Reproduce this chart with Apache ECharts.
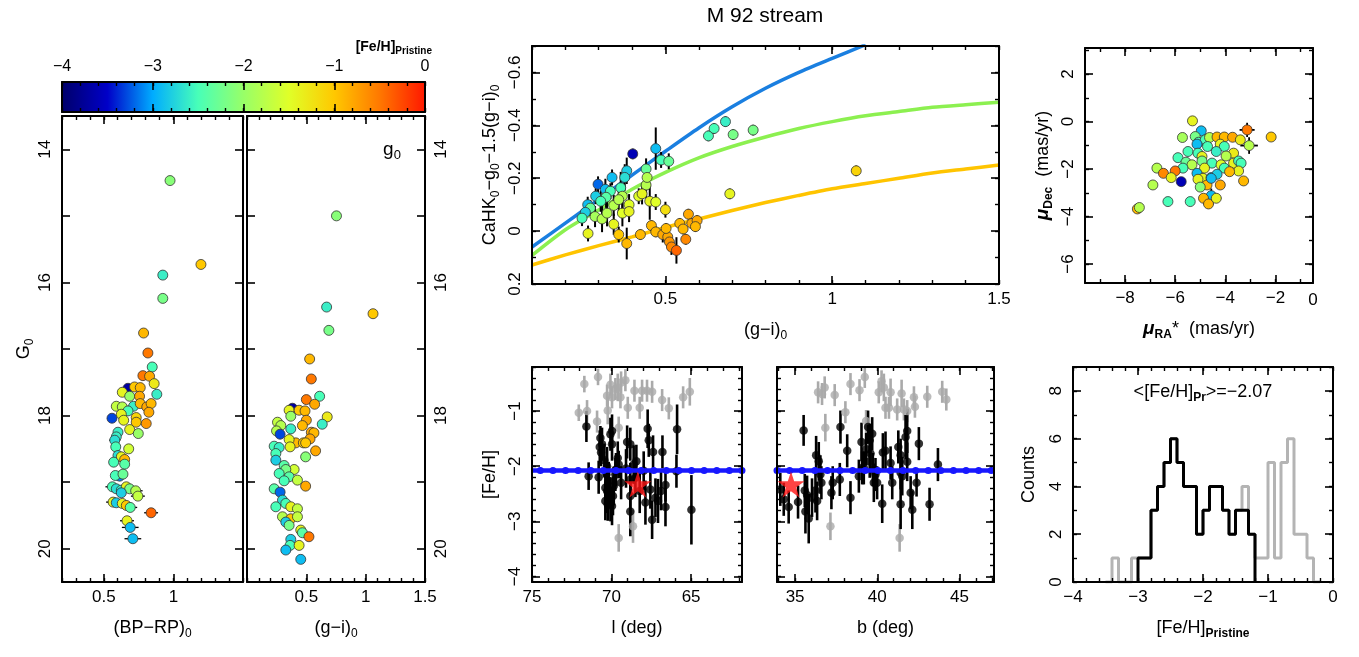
<!DOCTYPE html>
<html><head><meta charset="utf-8">
<script src="https://cdn.jsdelivr.net/npm/echarts@6/dist/echarts.min.js"></script>
<style>html,body{margin:0;padding:0;background:#fff}#c{width:1359px;height:657px}</style>
</head><body><div id="c"></div>
<script>
// ---------------- DATA ----------------
// CMD 1: [(BP-RP)0, G0, [Fe/H], xerr]
const cmdBpRp = [
[0.976,14.47,-2.1,0],[1.198,15.73,-1.0,0],[0.924,15.89,-2.6,0],[0.924,16.24,-2.2,0],[0.786,16.76,-0.9,0],
[0.817,17.06,-0.5,0],[0.848,17.27,-2.5,0],[0.781,17.40,-0.5,0],[0.829,17.41,-0.8,0],[0.862,17.52,-1.3,0],
[0.881,17.68,-2.6,0],[0.674,17.59,-3.7,0],[0.633,17.65,-1.4,0],[0.721,17.57,-1.0,0],[0.762,17.58,-0.9,0],
[0.686,17.71,-2.0,0],[0.757,17.71,-0.8,0],[0.590,17.86,-1.7,0],[0.633,17.87,-1.8,0],[0.714,17.86,-2.6,0],
[0.674,17.93,-2.5,0],[0.762,17.82,-0.9,0],[0.809,17.87,-0.8,0],[0.840,17.82,-0.9,0],[0.824,17.95,-0.8,0],
[0.559,18.04,-3.3,0],[0.626,17.98,-1.4,0],[0.643,18.07,-1.4,0],[0.733,18.03,-1.1,0],[0.733,18.10,-1.0,0],
[0.805,18.12,-0.7,0],[0.686,18.21,-1.4,0],[0.748,18.27,-2.0,0],[0.602,18.25,-2.6,0],[0.590,18.32,-2.6,0],
[0.579,18.37,-2.7,0.04],[0.586,18.47,-2.5,0],[0.679,18.50,-1.6,0],[0.602,18.60,-2.7,0.03],[0.626,18.62,-1.4,0],
[0.650,18.66,-0.9,0.03],[0.571,18.70,-2.5,0],[0.650,18.73,-2.4,0],[0.614,18.91,-3.1,0.04],[0.583,18.90,-2.5,0.03],
[0.638,18.88,-2.3,0],[0.562,19.07,-2.5,0.05],[0.590,19.10,-2.7,0.04],[0.626,19.12,-2.6,0.04],[0.662,19.07,-1.4,0.04],
[0.686,19.10,-2.2,0.04],[0.729,19.13,-1.8,0.05],[0.745,19.21,-1.7,0.05],[0.626,19.16,-2.8,0],[0.567,19.30,-1.4,0.05],
[0.590,19.31,-2.8,0.04],[0.633,19.32,-1.4,0.04],[0.662,19.35,-1.0,0.05],[0.690,19.38,-2.4,0.05],[0.840,19.46,-0.4,0.05],
[0.667,19.58,-1.4,0.05],[0.690,19.68,-2.9,0.06],[0.709,19.85,-2.9,0.06]
];
// CMD 2: [(g-i)0, g0, [Fe/H]]
const cmdGi = [
[0.754,15.00,-2.1],[0.671,16.37,-2.6],[1.062,16.47,-1.0],[0.690,16.72,-2.2],[0.528,17.15,-0.9],
[0.542,17.45,-0.5],[0.612,17.71,-2.5],[0.500,17.76,-0.5],[0.570,17.83,-0.8],[0.676,18.02,-1.3],
[0.634,18.13,-2.6],[0.383,17.89,-3.7],[0.355,17.92,-1.4],[0.439,17.92,-1.0],[0.489,17.93,-0.9],
[0.369,18.01,-2.0],[0.500,18.07,-0.8],[0.257,18.10,-1.7],[0.285,18.15,-1.8],[0.369,18.20,-2.6],
[0.249,18.23,-1.8],[0.279,18.28,-3.3],[0.467,18.15,-0.9],[0.542,18.25,-0.8],[0.564,18.26,-0.9],
[0.531,18.35,-0.8],[0.411,18.41,-0.9],[0.475,18.41,-1.0],[0.494,18.41,-1.0],[0.355,18.36,-1.4],
[0.363,18.47,-1.4],[0.578,18.53,-0.8],[0.494,18.62,-2.1],[0.229,18.46,-2.5],[0.271,18.48,-2.6],
[0.243,18.57,-2.5],[0.243,18.67,-2.8],[0.313,18.75,-2.4],[0.397,18.81,-1.6],[0.327,18.81,-2.2],
[0.271,18.87,-2.5],[0.355,18.92,-2.4],[0.425,18.97,-1.7],[0.494,19.06,-0.8],[0.313,18.98,-2.5],
[0.229,19.10,-2.4],[0.279,19.15,-3.2],[0.299,19.27,-2.7],[0.243,19.37,-2.5],[0.327,19.32,-2.5],
[0.369,19.37,-1.4],[0.425,19.40,-1.7],[0.299,19.52,-1.8],[0.369,19.55,-1.0],[0.327,19.60,-2.8],
[0.425,19.52,-1.7],[0.355,19.65,-2.2],[0.453,19.72,-1.4],[0.467,19.76,-2.4],[0.522,19.82,-0.5],
[0.369,19.86,-2.8],[0.363,19.95,-2.5],[0.439,19.95,-1.4],[0.327,20.02,-2.9],[0.453,20.16,-2.9]
];
// CaHK index: [(g-i)0, CaHK0-g0-1.5(g-i)0, [Fe/H], yerr]
const cahk = [
[0.402,-0.292,-3.6,0.02],[0.471,-0.312,-2.9,0.08],[0.487,-0.269,-2.5,0.03],[0.510,-0.264,-2.3,0.03],
[0.442,-0.235,-2.3,0.04],[0.384,-0.228,-2.8,0.05],[0.378,-0.203,-2.7,0.05],[0.340,-0.203,-2.9,0.03],
[0.298,-0.177,-3.2,0.03],[0.320,-0.158,-2.9,0.04],[0.366,-0.164,-2.5,0.06],[0.335,-0.151,-2.5,0.03],
[0.442,-0.174,-1.8,0.05],[0.445,-0.203,-1.8,0.04],[0.291,-0.132,-2.8,0.03],[0.322,-0.128,-2.4,0.04],
[0.371,-0.132,-1.8,0.05],[0.420,-0.132,-1.5,0.03],[0.430,-0.141,-1.4,0.04],[0.267,-0.100,-2.9,0.03],
[0.275,-0.087,-2.3,0.03],[0.306,-0.113,-2.5,0.04],[0.345,-0.097,-1.8,0.04],[0.360,-0.119,-1.8,0.05],
[0.391,-0.100,-1.5,0.04],[0.453,-0.113,-1.4,0.07],[0.471,-0.110,-1.5,0.03],[0.500,-0.081,-1.2,0.03],
[0.260,-0.071,-2.8,0.03],[0.250,-0.049,-2.5,0.03],[0.289,-0.055,-1.9,0.04],[0.310,-0.046,-1.8,0.05],
[0.325,-0.068,-1.8,0.05],[0.371,-0.068,-1.5,0.05],[0.391,-0.074,-1.4,0.04],[0.345,-0.026,-1.4,0.04],
[0.268,0.009,-1.4,0.03],[0.360,0.013,-1.0,0.03],[0.384,0.047,-0.9,0.06],[0.425,0.013,-0.9,0.02],
[0.458,-0.021,-0.9,0.02],[0.471,0.003,-0.9,0.02],[0.492,0.013,-0.8,0.03],[0.507,0.022,-0.8,0.03],
[0.502,-0.010,-0.9,0.02],[0.512,0.041,-0.7,0.03],[0.518,0.060,-0.6,0.03],[0.533,0.073,-0.4,0.05],
[0.543,-0.029,-0.9,0.02],[0.553,-0.008,-0.9,0.02],[0.561,0.031,-0.6,0.02],[0.569,-0.064,-0.8,0.02],
[0.579,-0.029,-0.8,0.02],[0.595,-0.040,-0.8,0.02],[0.590,-0.017,-0.9,0.02],[0.629,-0.360,-2.5,0.02],
[0.646,-0.388,-2.5,0.02],[0.680,-0.414,-2.6,0.02],[0.703,-0.365,-2.2,0.02],[0.763,-0.382,-2.2,0.02],
[0.693,-0.141,-1.4,0.02],[1.072,-0.228,-1.1,0.02]
];
// model curves in CaHK panel
const curveGi    = [0.1,0.2,0.3,0.4,0.5,0.6,0.7,0.8,0.9,1.0,1.1,1.2,1.3,1.4,1.5];
const curveFeHm3 = [0.06,-0.03,-0.12,-0.212,-0.302,-0.39,-0.47,-0.54,-0.60,-0.653,-0.705];
const curveFeHm2 = [0.092,-0.005,-0.08,-0.158,-0.222,-0.277,-0.32,-0.356,-0.388,-0.414,-0.436,-0.452,-0.468,-0.478,-0.487];
const curveFeHm1 = [0.128,0.09,0.055,0.022,-0.014,-0.046,-0.078,-0.108,-0.135,-0.16,-0.18,-0.2,-0.22,-0.235,-0.25];
// proper motions: [pmRA*, pmDec, [Fe/H], err]
const pm = [
[-5.31,0.03,-1.4,0],[-4.96,-0.39,-2.9,0],[-5.71,-0.67,-1.9,0],[-5.20,-0.63,-2.2,0],[-5.07,-0.87,-2.5,0],
[-4.80,-0.77,-2.5,0],[-4.63,-0.67,-1.8,0],[-4.33,-0.65,-0.9,0],[-4.04,-0.65,-0.9,0],[-3.71,-0.66,-0.8,0],
[-3.40,-0.77,-1.3,0],[-3.13,-0.35,-0.5,0.3],[-2.17,-0.65,-1.0,0],[-3.05,-1.01,-1.8,0.35],[-5.13,-0.95,-2.9,0],
[-5.49,-1.26,-2.5,0],[-5.09,-1.33,-2.5,0],[-4.71,-1.05,-2.5,0],[-4.20,-0.95,-1.4,0],[-4.04,-1.05,-2.5,0],
[-3.67,-1.33,-1.3,0],[-4.36,-1.26,-2.6,0],[-4.93,-1.47,-1.4,0],[-3.97,-1.45,-1.8,0],[-5.89,-1.52,-2.5,0],
[-5.57,-1.71,-2.3,0],[-5.33,-1.82,-1.8,0],[-5.69,-1.96,-2.5,0],[-4.93,-1.66,-2.2,0],[-4.53,-1.75,-2.5,0],
[-4.17,-1.82,-1.5,0],[-4.04,-1.96,-2.5,0],[-3.67,-1.75,-1.4,0],[-3.47,-1.66,-2.5,0],[-3.37,-1.75,-2.5,0],
[-3.47,-2.08,-1.4,0],[-3.83,-2.11,-0.9,0],[-4.83,-1.96,-1.4,0],[-6.00,-2.08,-0.5,0],[-6.73,-1.96,-1.8,0],
[-6.47,-2.18,-0.6,0],[-6.16,-2.36,-1.4,0],[-5.13,-2.18,-2.9,0],[-4.89,-2.39,-1.4,0],[-4.57,-2.36,-2.8,0],
[-4.33,-2.22,-2.8,0],[-4.20,-2.67,-0.8,0],[-4.73,-2.67,-0.9,0],[-4.56,-2.39,-2.9,0],[-5.76,-2.53,-3.6,0],
[-5.09,-2.43,-1.4,0],[-5.00,-2.76,-2.1,0],[-6.89,-2.67,-1.8,0],[-3.27,-2.50,-0.9,0],[-4.56,-3.12,-2.9,0.3],
[-4.87,-3.23,-0.9,0],[-4.67,-3.47,-0.9,0.2],[-4.36,-3.23,-1.4,0.2],[-7.51,-3.68,-0.9,0],[-7.43,-3.62,-1.8,0],
[-6.29,-3.37,-2.5,0],[-5.40,-3.37,-2.5,0]
];
// [Fe/H] vs l : [l, [Fe/H], err]
const lMembers = [
[71.58,-1.28,0.28],[71.44,-2.18,0.25],[70.70,-1.49,0.22],[70.74,-1.65,0.3],[70.66,-1.75,0.25],[70.81,-2.20,0.3],
[70.45,-1.89,0.3],[70.28,-2.00,0.35],[70.07,-1.42,0.3],[69.97,-1.36,0.3],[70.18,-2.27,0.35],[70.28,-2.45,0.4],
[70.07,-2.60,0.4],[69.97,-2.72,0.35],[70.24,-2.69,0.3],[69.86,-2.36,0.35],[69.61,-1.85,0.3],[69.40,-2.30,0.3],
[69.55,-1.97,0.25],[69.02,-1.56,0.3],[68.82,-1.60,0.3],[69.09,-2.04,0.35],[68.82,-2.82,0.45],[68.61,-1.97,0.35],
[68.44,-1.91,0.3],[68.23,-2.45,0.4],[67.98,-2.08,0.35],[67.73,-1.32,0.35],[67.66,-1.53,0.3],[67.39,-1.74,0.3],
[67.56,-2.42,0.35],[67.24,-2.57,0.35],[67.45,-2.97,0.35],[67.08,-2.63,0.4],[66.80,-1.74,0.3],[66.89,-2.45,0.35],
[66.61,-2.34,0.3],[66.61,-2.74,0.35],[65.88,-1.33,0.45],[65.92,-2.09,0.3],[64.98,-2.79,0.63],[70.39,-2.39,0.3],
[69.91,-2.54,0.35],[70.32,-2.15,0.3],[69.76,-2.15,0.3],[68.82,-2.24,0.3],[68.50,-2.21,0.35],[67.87,-2.66,0.4],
[69.97,-1.60,0.3],[70.60,-1.60,0.3],[68.82,-2.54,0.35],[70.39,-2.63,0.35],[69.72,-2.06,0.3]
];
const lOthers = [
[72.06,-1.03,0.15],[71.71,-0.51,0.15],[71.54,-1.00,0.2],[70.85,-0.38,0.15],[70.91,-1.19,0.2],[70.28,-0.72,0.2],
[70.07,-0.52,0.2],[69.76,-0.60,0.2],[69.61,-0.57,0.25],[69.44,-0.75,0.2],[69.40,-0.48,0.2],[69.13,-0.44,0.2],
[69.97,-0.75,0.2],[70.24,-0.99,0.25],[69.55,-1.30,0.2],[68.98,-0.94,0.2],[68.56,-0.63,0.2],[68.23,-0.94,0.2],
[68.08,-0.63,0.2],[67.77,-0.63,0.2],[67.45,-0.65,0.2],[66.82,-0.80,0.2],[66.40,-0.95,0.2],[65.50,-0.75,0.2],
[65.08,-0.65,0.25],[69.55,-3.30,0.25],[68.65,-3.09,0.3]
];
// [Fe/H] vs b : [b, [Fe/H], err]
const bMembers = [
[35.52,-1.35,0.28],[34.10,-2.42,0.3],[34.31,-2.60,0.3],[34.61,-2.74,0.3],[35.18,-2.65,0.3],[35.59,-2.44,0.3],
[35.73,-2.52,0.35],[35.63,-2.82,0.4],[35.83,-2.95,0.45],[36.03,-2.57,0.35],[36.24,-2.44,0.4],[36.28,-1.80,0.35],
[36.44,-1.91,0.35],[36.54,-2.15,0.35],[36.60,-2.30,0.3],[36.34,-2.63,0.35],[37.21,-2.48,0.3],[37.29,-2.30,0.3],
[37.76,-1.29,0.3],[37.72,-2.24,0.3],[38.17,-1.72,0.3],[38.37,-2.57,0.3],[38.88,-2.18,0.3],[39.04,-1.56,0.35],
[39.18,-2.03,0.3],[39.32,-1.69,0.3],[39.44,-1.29,0.3],[39.54,-1.53,0.3],[39.69,-1.41,0.3],[39.59,-1.77,0.3],
[39.54,-1.91,0.3],[39.73,-2.06,0.3],[39.79,-2.30,0.35],[39.99,-2.30,0.3],[40.30,-2.68,0.35],[40.34,-1.75,0.35],
[40.50,-1.72,0.35],[40.81,-1.94,0.3],[40.91,-2.30,0.3],[41.28,-1.65,0.3],[41.42,-1.80,0.3],[41.42,-2.12,0.3],
[41.52,-2.18,0.35],[41.42,-2.69,0.45],[41.72,-1.47,0.4],[41.82,-1.36,0.4],[41.82,-1.92,0.35],[42.03,-2.48,0.3],
[42.13,-2.79,0.35],[42.39,-2.30,0.25],[42.53,-1.59,0.3],[43.18,-2.69,0.3],[43.69,-1.97,0.3],[39.89,-2.15,0.3],
[39.08,-2.03,0.3]
];
const bOthers = [
[36.40,-0.66,0.2],[36.64,-0.69,0.2],[36.80,-0.57,0.2],[36.84,-1.30,0.25],[37.41,-0.71,0.2],[38.06,-1.02,0.2],
[38.37,-0.51,0.2],[38.92,-0.62,0.2],[39.24,-0.38,0.2],[39.32,-1.18,0.2],[40.09,-0.66,0.2],[40.26,-0.46,0.2],
[40.40,-0.57,0.25],[40.50,-0.94,0.2],[40.81,-0.66,0.25],[41.21,-0.97,0.2],[41.48,-0.68,0.25],[41.62,-0.97,0.2],
[42.23,-0.75,0.2],[42.29,-0.92,0.2],[43.04,-0.74,0.2],[43.95,-0.65,0.2],[44.20,-0.79,0.2],[37.15,-3.09,0.25],
[41.36,-3.30,0.25],[40.71,-0.94,0.2],[41.82,-1.00,0.2]
];
const meanFeH = -2.07;
const m92 = {l: 68.35, b: 34.75, feh: -2.33};
// histogram (bin width 0.1)
const histBinStart = [-3.5,-3.4,-3.3,-3.2,-3.1,-3.0,-2.9,-2.8,-2.7,-2.6,-2.5,-2.4,-2.3,-2.2,-2.1,-2.0,-1.9,-1.8,-1.7,-1.6,-1.5,-1.4,-1.3,-1.2,-1.1,-1.0,-0.9,-0.8,-0.7,-0.6,-0.5,-0.4,-0.3];
const histAll     = [0,1,0,0,1,1,1,3,4,5,6,5,4,4,2,3,4,4,3,2,3,4,2,1,1,5,1,5,6,2,2,1,0];
const histMembers = [0,0,0,0,0,1,1,3,4,5,6,5,4,4,2,3,4,4,3,2,3,3,2,0,0,0,0,0,0,0,0,0,0];
const histWidth = 0.1;
const colorbarTicks = [-4,-3,-2,-1,0];

// ---------------- STYLE / HELPERS ----------------
const F = '"Liberation Sans", Arial, Helvetica, sans-serif';
const jet = ['#00006a','#0000c8','#00acff','#48ffb8','#98ff68','#e0ff28','#ffc800','#ff7800','#ff1800'];
function rng(a,b,s){const r=[];const n=Math.round((b-a)/s);for(let i=0;i<=n;i++)r.push(+(a+i*s).toFixed(4));return r;}
function fmt(v){return String(+(+v).toFixed(2)).replace('-','\u2212');}
const RICH = {
  s:{fontSize:12,fontFamily:F,color:'#000',verticalAlign:'bottom',lineHeight:12},
  b:{fontSize:12,fontFamily:F,fontWeight:'bold',color:'#000',verticalAlign:'bottom',lineHeight:12},
  i:{fontSize:19,fontFamily:F,fontStyle:'italic',fontWeight:'bold',color:'#000'}
};
const grids=[], xAxis=[], yAxis=[];
function axis(isX, gi, o, pos, major, minor, labels, nameOpt){
  const list = isX ? xAxis : yAxis;
  const common = {type:'value', gridIndex:gi, min:isX?o.x[0]:o.y[0], max:isX?o.x[1]:o.y[1],
    inverse:isX?!!o.xInv:!!o.yInv, position:pos, splitLine:{show:false}, axisPointer:{show:false}, z:5};
  const idx = list.length;
  const lab = {show:labels.length>0, formatter:fmt, fontSize:o.fs||17, fontFamily:F, color:'#000',
    margin:isX?7:8, rotate:isX?0:90};
  if(labels.length) lab.customValues = labels;
  const tk = {show:major.length>0, inside:true, length:8, lineStyle:{color:'#000',width:1.6}};
  if(major.length) tk.customValues = major;
  list.push(Object.assign({}, common, {
    axisLine:{show:true,onZero:false,lineStyle:{color:'#000',width:2}},
    axisTick:tk, axisLabel:lab}, nameOpt||{}));
  const mt = {show:minor.length>0, inside:true, length:4, lineStyle:{color:'#000',width:1.4}};
  if(minor.length) mt.customValues = minor;
  list.push(Object.assign({}, common, {axisLine:{show:false,onZero:false}, axisTick:mt, axisLabel:{show:false}}));
  return idx;
}
function nm(text, gap, isY, extra){
  return Object.assign({name:text, nameLocation:'middle', nameGap:gap, nameRotate:isY?90:0,
    nameTextStyle:{fontSize:18, fontFamily:F, color:'#000', lineHeight:24, rich:RICH}}, extra||{});
}
function panel(rect, o){
  const gi = grids.length;
  grids.push({left:rect[0], top:rect[1], width:rect[2], height:rect[3]});
  const xi = axis(true, gi, o, 'bottom', o.xMaj, o.xMin, o.xLab||[], o.xName);
  axis(true, gi, o, 'top', o.xMaj, o.xMin, o.xTopLab||[], null);
  const yi = axis(false, gi, o, 'left', o.yMaj, o.yMin, o.yLab||[], o.yName);
  axis(false, gi, o, 'right', o.yMaj, o.yMin, o.yRightLab||[], null);
  return {gi, xi, yi};
}

// ---------------- PANELS ----------------
const PC = panel([62,82,363,30], {x:[-4,0], y:[0,1], xMaj:rng(-4,0,1), xMin:rng(-4,0,0.2), xTopLab:colorbarTicks, yMaj:[], yMin:[], fs:16});
const P1 = panel([62,116,181,466], {x:[0.2,1.5], y:[13.5,20.5], yInv:true,
  xMaj:[0.5,1,1.5], xMin:rng(0.2,1.5,0.1), xLab:[0.5,1], yMaj:rng(14,20,1), yMin:[], yLab:[14,16,18,20],
  xName:nm('(BP\u2212RP){s|0}',34,false), yName:nm('G{s|0}',26,true)});
const P2 = panel([247,116,178,466], {x:[0,1.5], y:[13.5,20.5], yInv:true,
  xMaj:[0.5,1,1.5], xMin:rng(0,1.5,0.1), xLab:[0.5,1,1.5], yMaj:rng(14,20,1), yMin:[], yRightLab:[14,16,18,20],
  xName:nm('(g\u2212i){s|0}',34,false)});
const P3 = panel([532,46,467,238], {x:[0.1,1.5], y:[-0.7,0.2], yInv:true,
  xMaj:[0.5,1,1.5], xMin:rng(0.1,1.5,0.1), xLab:[0.5,1,1.5], yMaj:rng(-0.6,0.2,0.2), yMin:rng(-0.7,0.2,0.1), yLab:[-0.6,-0.4,-0.2,0,0.2],
  xName:nm('(g\u2212i){s|0}',34,false), yName:nm('CaHK{s|0}\u2212g{s|0}\u22121.5(g\u2212i){s|0}',30,true)});
const P4 = panel([1085,48,228,235], {x:[-9.6,-0.5], y:[-6.8,3.1],
  xMaj:[-8,-6,-4,-2], xMin:rng(-9,-1,1), xLab:[-8,-6,-4,-2], yMaj:[-6,-4,-2,0,2], yMin:rng(-6,3,1), yLab:[-6,-4,-2,0,2],
  xName:nm('{i|\u03bc}{b|RA}*  (mas/yr)',34,false), yName:nm('{i|\u03bc}{b|Dec}  (mas/yr)',30,true)});
const P5 = panel([532,367,210,215], {x:[61.8,75], xInv:true, y:[-4.1,-0.2],
  xMaj:[65,70,75], xMin:rng(62,75,1), xLab:[65,70,75], yMaj:[-4,-3,-2,-1], yMin:rng(-4,-0.2,0.2), yLab:[-4,-3,-2,-1],
  xName:nm('l (deg)',34,false), yName:nm('[Fe/H]',30,true)});
const P6 = panel([777,367,217,215], {x:[33.9,47.1], y:[-4.1,-0.2],
  xMaj:[35,40,45], xMin:rng(34,47,1), xLab:[35,40,45], yMaj:[-4,-3,-2,-1], yMin:rng(-4,-0.2,0.2),
  xName:nm('b (deg)',34,false)});
const P7 = panel([1073,367,260,215], {x:[-4,0], y:[0,9],
  xMaj:rng(-4,0,1), xMin:rng(-4,0,0.2), xLab:[-4,-3,-2,-1,0], yMaj:[0,2,4,6,8], yMin:rng(0,9,1), yLab:[0,2,4,6,8],
  xName:nm('[Fe/H]{b|Pristine}',34,false), yName:nm('Counts',32,true)});

// ---------------- SERIES ----------------
const series=[], colored=[];
function add(s,col){series.push(s); if(col) colored.push(series.length-1);}
function errSeries(P, data, dimE, dirs, color, w){
  return {type:'custom', xAxisIndex:P.xi, yAxisIndex:P.yi, data, clip:true, silent:true, z:2, encode:{x:0,y:1},
    renderItem:(p,api)=>{
      const x=api.value(0), y=api.value(1), e=api.value(dimE), ch=[];
      if(e>0){
        if(dirs.indexOf('y')>=0){const a=api.coord([x,y-e]), b=api.coord([x,y+e]);
          ch.push({type:'line',shape:{x1:a[0],y1:a[1],x2:b[0],y2:b[1]},style:{stroke:color,lineWidth:w}});}
        if(dirs.indexOf('x')>=0){const a=api.coord([x-e,y]), b=api.coord([x+e,y]);
          ch.push({type:'line',shape:{x1:a[0],y1:a[1],x2:b[0],y2:b[1]},style:{stroke:color,lineWidth:w}});}
      }
      return {type:'group', children:ch};
    }};
}
const dotStyle = {borderColor:'#333', borderWidth:0.8, opacity:1};
// CMD 1
add(errSeries(P1, cmdBpRp, 3, 'x', '#000', 1.3));
add({type:'scatter', xAxisIndex:P1.xi, yAxisIndex:P1.yi, data:cmdBpRp, symbolSize:10, itemStyle:dotStyle, encode:{x:0,y:1}, z:3}, true);
// CMD 2
add({type:'scatter', xAxisIndex:P2.xi, yAxisIndex:P2.yi, data:cmdGi, symbolSize:10, itemStyle:dotStyle, encode:{x:0,y:1}, z:3}, true);
// CaHK curves
[[curveFeHm3,'#1a7fe0'],[curveFeHm2,'#8cf050'],[curveFeHm1,'#ffc400']].forEach(([arr,c])=>{
  add({type:'line', xAxisIndex:P3.xi, yAxisIndex:P3.yi, data:arr.map((v,i)=>[curveGi[i],v]), smooth:0.25,
    showSymbol:false, silent:true, lineStyle:{color:c,width:3.5}, z:1});
});
add(errSeries(P3, cahk, 3, 'y', '#000', 2));
add({type:'scatter', xAxisIndex:P3.xi, yAxisIndex:P3.yi, data:cahk, symbolSize:10, itemStyle:dotStyle, encode:{x:0,y:1}, z:3}, true);
// PM
add(errSeries(P4, pm, 3, 'xy', '#000', 1.8));
add({type:'scatter', xAxisIndex:P4.xi, yAxisIndex:P4.yi, data:pm, symbolSize:10, itemStyle:dotStyle, encode:{x:0,y:1}, z:3}, true);
// [Fe/H] vs l and b
function fehPanel(P, members, others, starX){
  add(errSeries(P, others, 2, 'y', '#aaaaaa', 2.6));
  add({type:'scatter', xAxisIndex:P.xi, yAxisIndex:P.yi, data:others, symbolSize:8.5, itemStyle:{color:'#aaaaaa'}, encode:{x:0,y:1}, z:3});
  add(errSeries(P, members, 2, 'y', '#000', 2.6));
  add({type:'scatter', xAxisIndex:P.xi, yAxisIndex:P.yi, data:members, symbolSize:8.5, itemStyle:{color:'#000'}, encode:{x:0,y:1}, z:3,
    markLine:{silent:true, symbol:'none', label:{show:false}, animation:false,
      data:[{yAxis:meanFeH, lineStyle:{color:'#1818ff',width:4.5,type:'solid'}},
            {yAxis:meanFeH, lineStyle:{color:'#1818ff',width:7,type:[0.1,12.5],cap:'round'}}]}});
  add({type:'scatter', xAxisIndex:P.xi, yAxisIndex:P.yi, data:[[starX, m92.feh]], z:6,
    symbol:'path://M50,0 L61.2,34.5 L97.6,34.5 L68.2,55.9 L79.4,90.5 L50,69.1 L20.6,90.5 L31.8,55.9 L2.4,34.5 L38.8,34.5 Z',
    symbolSize:[27,26], itemStyle:{color:'#ff1414'}});
}
fehPanel(P5, lMembers, lOthers, m92.l);
fehPanel(P6, bMembers, bOthers, m92.b);
// histogram
function stepPts(starts, counts, w){
  const pts=[[starts[0],0]];
  for(let i=0;i<starts.length;i++){pts.push([starts[i],counts[i]]); pts.push([+(starts[i]+w).toFixed(3),counts[i]]);}
  pts.push([+(starts[starts.length-1]+w).toFixed(3),0]);
  return pts;
}
add({type:'line', xAxisIndex:P7.xi, yAxisIndex:P7.yi, data:stepPts(histBinStart,histAll,histWidth), showSymbol:false, silent:true,
  lineStyle:{color:'#b4b4b4',width:3}, z:2});
const mStart = histBinStart.filter((v,i)=>v>=-3.05 && v<=-1.25), mCount = histMembers.filter((v,i)=>histBinStart[i]>=-3.05 && histBinStart[i]<=-1.25);
add({type:'line', xAxisIndex:P7.xi, yAxisIndex:P7.yi, data:stepPts(mStart,mCount,histWidth), showSymbol:false, silent:true,
  lineStyle:{color:'#000',width:3}, z:3});

// ---------------- GRAPHICS (text / colour bar) ----------------
const graphic = [
  {type:'rect', shape:{x:62,y:82,width:363,height:30}, z:1, silent:true,
   style:{fill:{type:'linear',x:0,y:0,x2:1,y2:0,colorStops:jet.map((c,i)=>({offset:i/(jet.length-1),color:c}))}}},
  {type:'text', x:765, y:16, z:10, style:{text:'M 92 stream', fontSize:21, fontFamily:F, fill:'#000', align:'center', verticalAlign:'middle'}},
  {type:'text', x:432, y:47, z:10, style:{text:'[Fe/H]{b|Pristine}', fontSize:14, fontWeight:'bold', fontFamily:F, fill:'#000', align:'right', verticalAlign:'middle',
     rich:{b:{fontSize:10,fontWeight:'bold',fontFamily:F,fill:'#000',verticalAlign:'bottom',lineHeight:10}}, lineHeight:18}},
  {type:'text', x:392, y:150, z:10, style:{text:'g{s|0}', fontSize:19, fontFamily:F, fill:'#000', align:'center', verticalAlign:'middle', lineHeight:24,
     rich:{s:{fontSize:13,fontFamily:F,fill:'#000',verticalAlign:'bottom',lineHeight:12}}}},
  {type:'text', x:1203, y:392, z:10, style:{text:'<[Fe/H]{b|Pr}>=\u22122.07', fontSize:18, fontFamily:F, fill:'#000', align:'center', verticalAlign:'middle', lineHeight:24,
     rich:{b:{fontSize:12,fontWeight:'bold',fontFamily:F,fill:'#000',verticalAlign:'bottom',lineHeight:12}}}},
  {type:'text', x:1313, y:300, z:10, style:{text:'0', fontSize:17, fontFamily:F, fill:'#000', align:'center', verticalAlign:'middle'}}
];

const chart = echarts.init(document.getElementById('c'));
chart.setOption({
  animation:false, backgroundColor:'#fff',
  grid:grids, xAxis, yAxis, series, graphic,
  visualMap:{type:'continuous', show:false, min:-4, max:0, dimension:2, seriesIndex:colored, inRange:{color:jet}}
});
</script></body></html>
